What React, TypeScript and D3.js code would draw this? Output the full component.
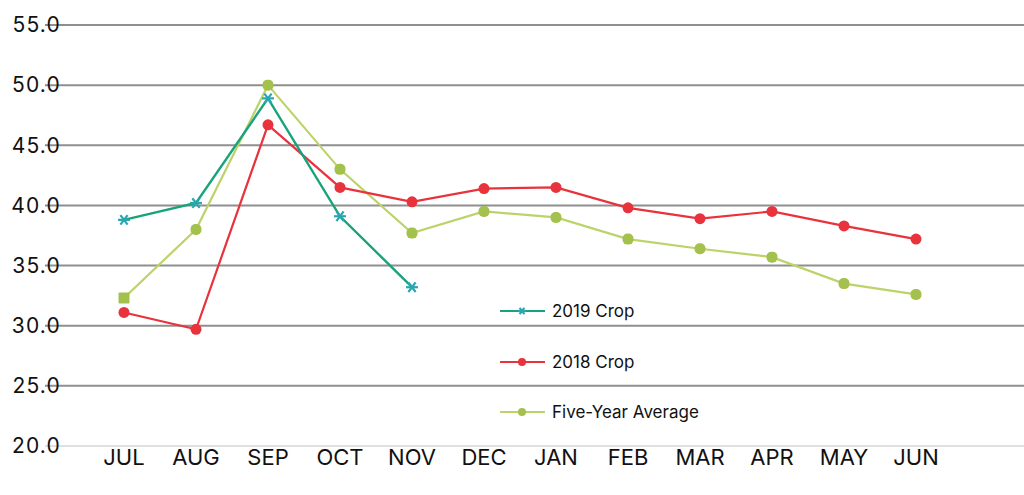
import React from "react";
import * as d3 from "d3";

const months = ["JUL", "AUG", "SEP", "OCT", "NOV", "DEC", "JAN", "FEB", "MAR", "APR", "MAY", "JUN"];
const crop2019 = [38.8, 40.2, 48.9, 39.1, 33.2];
const crop2018 = [31.1, 29.7, 46.7, 41.5, 40.3, 41.4, 41.5, 39.8, 38.9, 39.5, 38.3, 37.2];
const fiveYear = [32.3, 38.0, 50.0, 43.0, 37.7, 39.5, 39.0, 37.2, 36.4, 35.7, 33.5, 32.6];
const yTicks = [20, 25, 30, 35, 40, 45, 50, 55];

const W = 1024;
const H = 495;

export default function App() {
  const x = d3.scalePoint<string>().domain(months).range([124, 916]);
  const y = d3.scaleLinear().domain([20, 55]).range([446, 25]);
  const font = "Inter, 'Noto Sans', sans-serif";

  const mk = (vals: number[]) =>
    d3
      .line<number>()
      .x((_, i) => x(months[i]) as number)
      .y((d) => y(d))(vals) as string;

  const star = (cx: number, cy: number, color: string, key: string, s = 6) => (
    <g key={key} stroke={color} strokeWidth={2.2}>
      <line x1={cx - s} y1={cy} x2={cx + s} y2={cy} />
      <line x1={cx - s * 0.6} y1={cy - s * 0.8} x2={cx + s * 0.6} y2={cy + s * 0.8} />
      <line x1={cx - s * 0.6} y1={cy + s * 0.8} x2={cx + s * 0.6} y2={cy - s * 0.8} />
    </g>
  );

  const teal = "#17a37c";
  const tealMk = "#2aa6b0";
  const red = "#e8323c";
  const lime = "#bcd36a";
  const limeMk = "#a3c14c";

  const legend = [
    { label: "2019 Crop", y: 311, color: teal, type: "star" },
    { label: "2018 Crop", y: 362, color: red, type: "dot" },
    { label: "Five-Year Average", y: 412, color: lime, type: "sq" },
  ];

  return (
    <svg width={W} height={H} style={{ position: "absolute", left: 0, top: 0, background: "#fff" }}>
      <rect width={W} height={H} fill="#fff" />
      {yTicks.map((t) => (
        <g key={t}>
          <line x1={45} x2={W} y1={y(t)} y2={y(t)} stroke={t === 20 ? "#d6d6d6" : "#8f8f8f"} strokeWidth={t === 20 ? 1.5 : 2} />
          <text x={61} y={y(t)} dy="0.35em" textAnchor="end" fontFamily={font} fontSize={21} letterSpacing={1.2} fill="#111">
            {t.toFixed(1)}
          </text>
        </g>
      ))}
      {months.map((m) => (
        <text key={m} x={x(m)} y={465} textAnchor="middle" fontFamily={font} fontSize={22} fill="#111">
          {m}
        </text>
      ))}

      <path d={mk(fiveYear)} fill="none" stroke={lime} strokeWidth={2.2} />
      <path d={mk(crop2018)} fill="none" stroke={red} strokeWidth={2.2} />
      <path d={mk(crop2019)} fill="none" stroke={teal} strokeWidth={2.4} />

      {fiveYear.map((v, i) => (
        <rect key={"f" + i} x={(x(months[i]) as number) - 5.5} y={y(v) - 5.5} width={11} height={11} rx={i === 0 ? 1 : 5} fill={limeMk} />
      ))}
      {crop2018.map((v, i) => (
        <circle key={"r" + i} cx={x(months[i]) as number} cy={y(v)} r={5.5} fill={red} />
      ))}
      {crop2019.map((v, i) => star(x(months[i]) as number, y(v), tealMk, "s" + i))}

      {legend.map((l) => (
        <g key={l.label}>
          <line x1={500} x2={545} y1={l.y} y2={l.y} stroke={l.color} strokeWidth={2} />
          {l.type === "star"
            ? star(522, l.y, tealMk, "ls", 4)
            : <circle cx={522} cy={l.y} r={4} fill={l.type === "dot" ? red : limeMk} />}
          <text x={552} y={l.y} dy="0.35em" fontFamily={font} fontSize={17} fill="#111">
            {l.label}
          </text>
        </g>
      ))}
    </svg>
  );
}
